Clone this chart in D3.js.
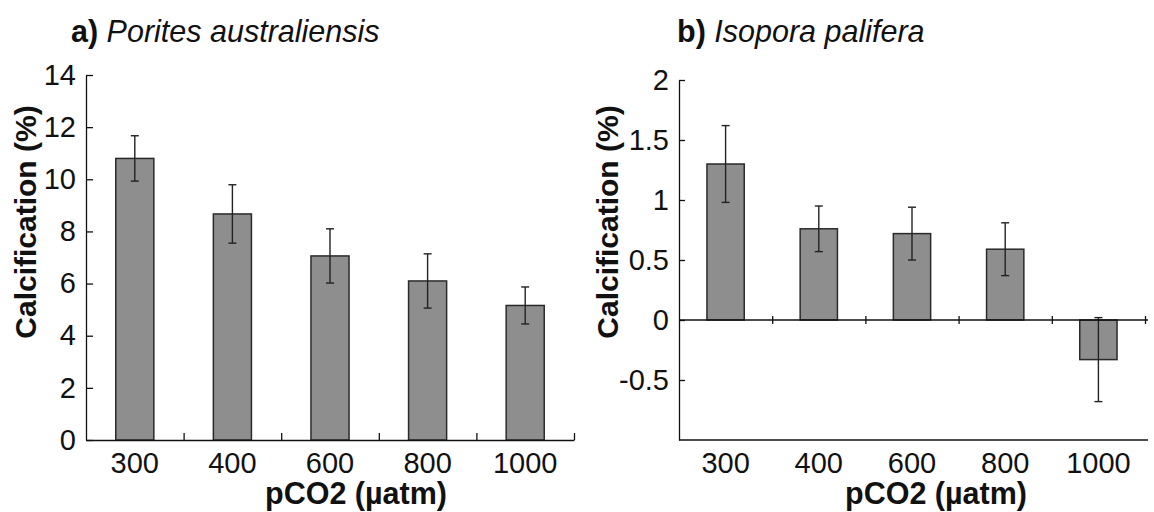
<!DOCTYPE html>
<html>
<head>
<meta charset="utf-8">
<script src="https://cdn.jsdelivr.net/npm/d3@7"></script>
<style>
  body { margin: 0; background: #fff; }
  svg { display: block; font-family: "Liberation Sans", Arial, sans-serif; }
  .domain, .tick line { stroke: #111; stroke-width: 1.3; }
  .tick text { font-size: 29px; fill: #111; }
</style>
</head>
<body>
<script>
'use strict';

// pCO2 treatments (µatm)
let categories = ["300", "400", "600", "800", "1000"];

// a) Porites australiensis
let valuesA = [10.8, 8.67, 7.06, 6.1, 5.16];
let errorsA = [0.87, 1.12, 1.04, 1.04, 0.71];
let ticksA = [0, 2, 4, 6, 8, 10, 12, 14];

// b) Isopora palifera
let valuesB = [1.3, 0.76, 0.72, 0.59, -0.33];
let errorsB = [0.32, 0.19, 0.22, 0.22, 0.35];
let ticksB = [-0.5, 0, 0.5, 1, 1.5, 2];

(function() {

  let width = 1154;
  let height = 512;
  let svg = d3.select("body")
    .append("svg")
    .attr("width", width)
    .attr("height", height);

  let barFill = "#8e8e8e";
  let ink = "#111";
  // plain hyphen for negatives, no trailing zeros (as in the original)
  let fmt = d => String(d);

  function title(x, letter, name) {
    let t = svg.append("text")
      .attr("x", x)
      .attr("y", 42)
      .attr("font-size", 30.5)
      .attr("fill", ink);
    t.append("tspan").attr("font-weight", "bold").text(letter + " ");
    t.append("tspan").attr("font-style", "italic").text(name);
  }

  function yLabel(x, y) {
    svg.append("text")
      .attr("transform", "translate(" + x + "," + y + ") rotate(-90)")
      .attr("text-anchor", "middle")
      .attr("font-size", 30)
      .attr("font-weight", "bold")
      .attr("fill", ink)
      .text("Calcification (%)");
  }

  function xLabel(x) {
    svg.append("text")
      .attr("x", x)
      .attr("y", 504)
      .attr("text-anchor", "middle")
      .attr("font-size", 30.5)
      .attr("font-weight", "bold")
      .attr("fill", ink)
      .text("pCO2 (µatm)");
  }

  function bars(g, x, y, values, errors) {
    g.selectAll("rect.bar")
      .data(values)
      .enter()
      .append("rect")
      .attr("class", "bar")
      .attr("x", (d, i) => x(categories[i]))
      .attr("width", x.bandwidth())
      .attr("y", d => y(Math.max(0, d)))
      .attr("height", d => Math.abs(y(d) - y(0)))
      .attr("fill", barFill)
      .attr("stroke", "#2a2a2a")
      .attr("stroke-width", 1.5);

    let cx = i => x(categories[i]) + x.bandwidth() / 2;
    let err = g.selectAll("g.err")
      .data(values)
      .enter()
      .append("g")
      .attr("class", "err")
      .attr("stroke", "#222")
      .attr("stroke-width", 1.4);
    err.append("line")
      .attr("x1", (d, i) => cx(i))
      .attr("x2", (d, i) => cx(i))
      .attr("y1", (d, i) => y(d + errors[i]))
      .attr("y2", (d, i) => y(d - errors[i]));
    err.append("line")
      .attr("x1", (d, i) => cx(i) - 4)
      .attr("x2", (d, i) => cx(i) + 4)
      .attr("y1", (d, i) => y(d + errors[i]))
      .attr("y2", (d, i) => y(d + errors[i]));
    err.append("line")
      .attr("x1", (d, i) => cx(i) - 4)
      .attr("x2", (d, i) => cx(i) + 4)
      .attr("y1", (d, i) => y(d - errors[i]))
      .attr("y2", (d, i) => y(d - errors[i]));
  }

  // ---------- panel a ----------
  let gA = svg.append("g");
  let xA = d3.scaleBand()
    .domain(categories)
    .range([86, 574])
    .paddingInner(0.61)
    .paddingOuter(0.305);
  let yA = d3.scaleLinear()
    .domain([0, 14])
    .range([440, 75]);
  let slotsA = d3.scaleLinear()
    .domain([0, categories.length])
    .range([86, 574]);

  bars(gA, xA, yA, valuesA, errorsA);

  gA.append("g")
    .attr("transform", "translate(86,0)")
    .call(d3.axisLeft(yA).tickValues(ticksA).tickFormat(fmt)
      .tickSizeInner(-7).tickSizeOuter(0).tickPadding(10));

  gA.append("g")
    .attr("transform", "translate(0,440)")
    .call(d3.axisBottom(xA).tickSize(0).tickPadding(12));

  gA.append("g")
    .attr("transform", "translate(0,440)")
    .call(d3.axisTop(slotsA).tickValues([1, 2, 3, 4, 5]).tickSize(7).tickFormat(""))
    .select(".domain").remove();

  title(71, "a)", "Porites australiensis");
  yLabel(36, 222);
  xLabel(356);

  // ---------- panel b ----------
  let gB = svg.append("g");
  let xB = d3.scaleBand()
    .domain(categories)
    .range([679, 1145])
    .paddingInner(0.6)
    .paddingOuter(0.3);
  let yB = d3.scaleLinear()
    .domain([-1, 2])
    .range([440, 80]);
  let slotsB = d3.scaleLinear()
    .domain([0, categories.length])
    .range([679, 1145]);

  bars(gB, xB, yB, valuesB, errorsB);

  gB.append("g")
    .attr("transform", "translate(679,0)")
    .call(d3.axisLeft(yB).tickValues(ticksB).tickFormat(fmt)
      .tickSizeInner(-6).tickSizeOuter(0).tickPadding(10));

  // zero line with crossing ticks at the slot boundaries
  gB.append("g")
    .attr("transform", "translate(0," + yB(0) + ")")
    .call(d3.axisTop(slotsB).tickValues([1, 2, 3, 4, 5]).tickSize(4).tickSizeOuter(0).tickFormat(""))
    .select(".domain")
    .attr("d", "M679,0H1148");
  gB.append("g")
    .attr("transform", "translate(0," + yB(0) + ")")
    .call(d3.axisBottom(slotsB).tickValues([1, 2, 3, 4, 5]).tickSize(4).tickFormat(""))
    .select(".domain").remove();

  // bottom frame line with category labels
  gB.append("g")
    .attr("transform", "translate(0,440)")
    .call(d3.axisBottom(xB).tickSize(0).tickPadding(12))
    .select(".domain")
    .attr("d", "M679,0H1148");

  title(677, "b)", "Isopora palifera");
  yLabel(618, 222);
  xLabel(936);

})();
</script>
</body>
</html>
